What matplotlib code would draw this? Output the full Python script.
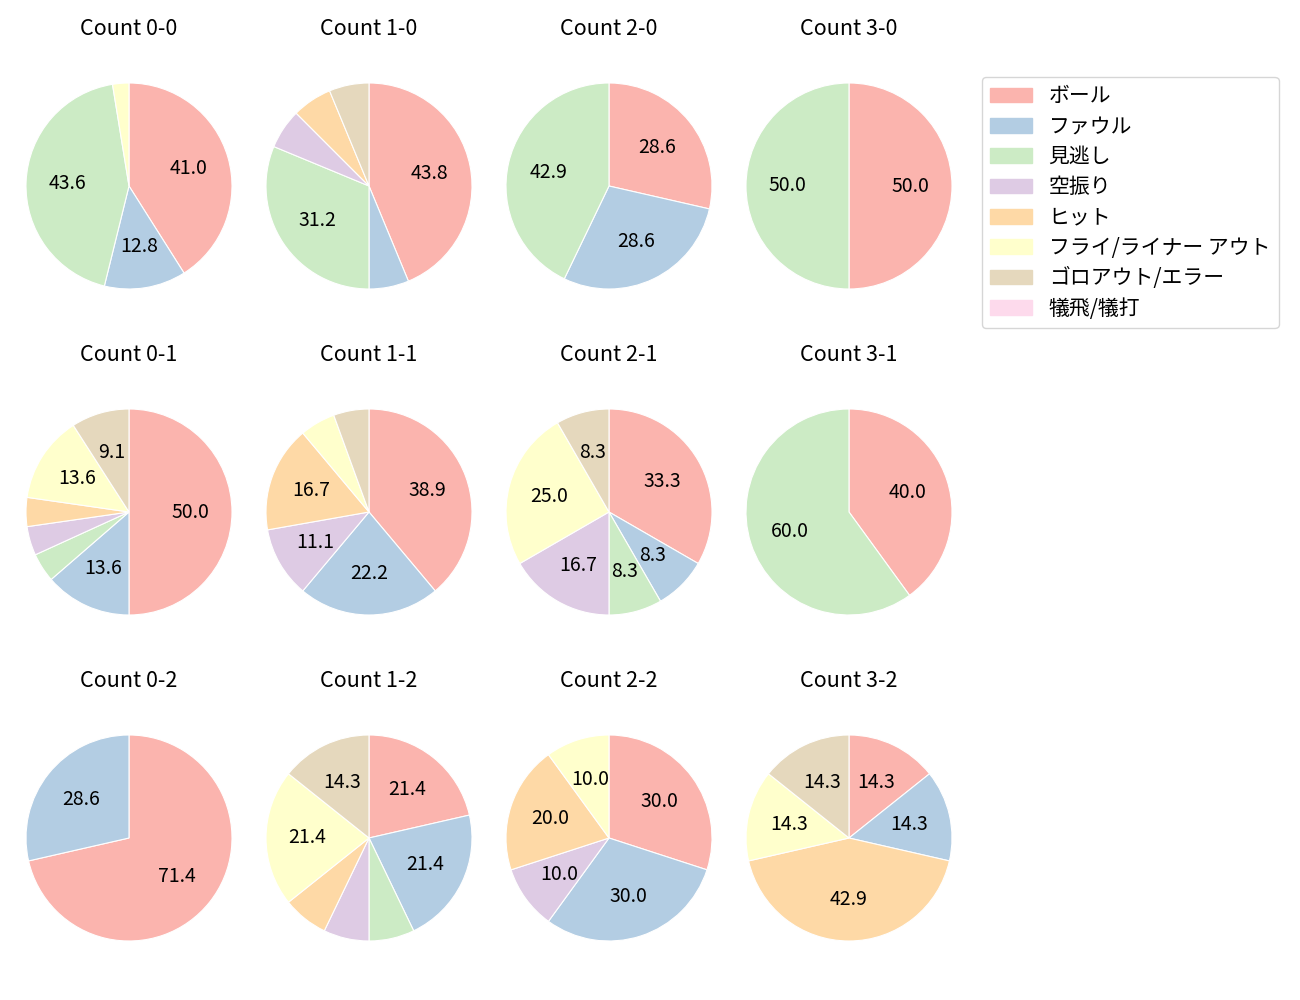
import matplotlib
matplotlib.use('Agg')
import matplotlib.pyplot as plt

plt.rcParams['font.family'] = ['Noto Sans CJK JP', 'DejaVu Sans']
plt.rcParams['font.size'] = 14

categories = ['ボール', 'ファウル', '見逃し', '空振り', 'ヒット',
              'フライ/ライナー アウト', 'ゴロアウト/エラー', '犠飛/犠打']

# pitch counts per category, by ball-strike count
counts = {
    '0-0': [16, 5, 17, 0, 0, 1, 0, 0],
    '1-0': [7, 1, 5, 1, 1, 0, 1, 0],
    '2-0': [2, 2, 3, 0, 0, 0, 0, 0],
    '3-0': [1, 0, 1, 0, 0, 0, 0, 0],
    '0-1': [11, 3, 1, 1, 1, 3, 2, 0],
    '1-1': [7, 4, 0, 2, 3, 1, 1, 0],
    '2-1': [4, 1, 1, 2, 0, 3, 1, 0],
    '3-1': [2, 0, 3, 0, 0, 0, 0, 0],
    '0-2': [5, 2, 0, 0, 0, 0, 0, 0],
    '1-2': [3, 3, 1, 1, 1, 3, 2, 0],
    '2-2': [3, 3, 0, 1, 2, 1, 0, 0],
    '3-2': [1, 1, 0, 0, 3, 1, 1, 0],
}
balls = [0, 1, 2, 3]
strikes = [0, 1, 2]

colors = plt.cm.Pastel1.colors[:8]

fig = plt.figure(figsize=(13, 10), dpi=100)
W, H = 1300, 1000
size = 257.5

for i, s in enumerate(strikes):
    for j, b in enumerate(balls):
        cx = 129 + 240 * j
        cy = 186 + 326 * i
        ax = fig.add_axes([(cx - size / 2) / W, (H - cy - size / 2) / H, size / W, size / H])
        key = f'{b}-{s}'
        vals = counts[key]
        idx = [k for k, v in enumerate(vals) if v > 0]
        ax.pie([vals[k] for k in idx], colors=[colors[k] for k in idx],
               startangle=90, counterclock=False,
               autopct=lambda p: f'{p:.1f}' if p >= 8 else '',
               wedgeprops={'edgecolor': 'white', 'linewidth': 0.8},
               textprops={'fontsize': 14})
        ax.set_xlim(-1.25, 1.25)
        ax.set_ylim(-1.25, 1.25)
        ax.set_title(f'Count {key}', fontsize=15.5, pad=16)

handles = [plt.Rectangle((0, 0), 1, 1, color=c) for c in colors]
fig.legend(handles, categories, loc='upper left',
           bbox_to_anchor=(982 / W, 1 - 77 / H), borderaxespad=0, fontsize=15,
           labelspacing=0.4, handlelength=2.0, handletextpad=0.8)

fig.savefig('out.png', dpi=100)
